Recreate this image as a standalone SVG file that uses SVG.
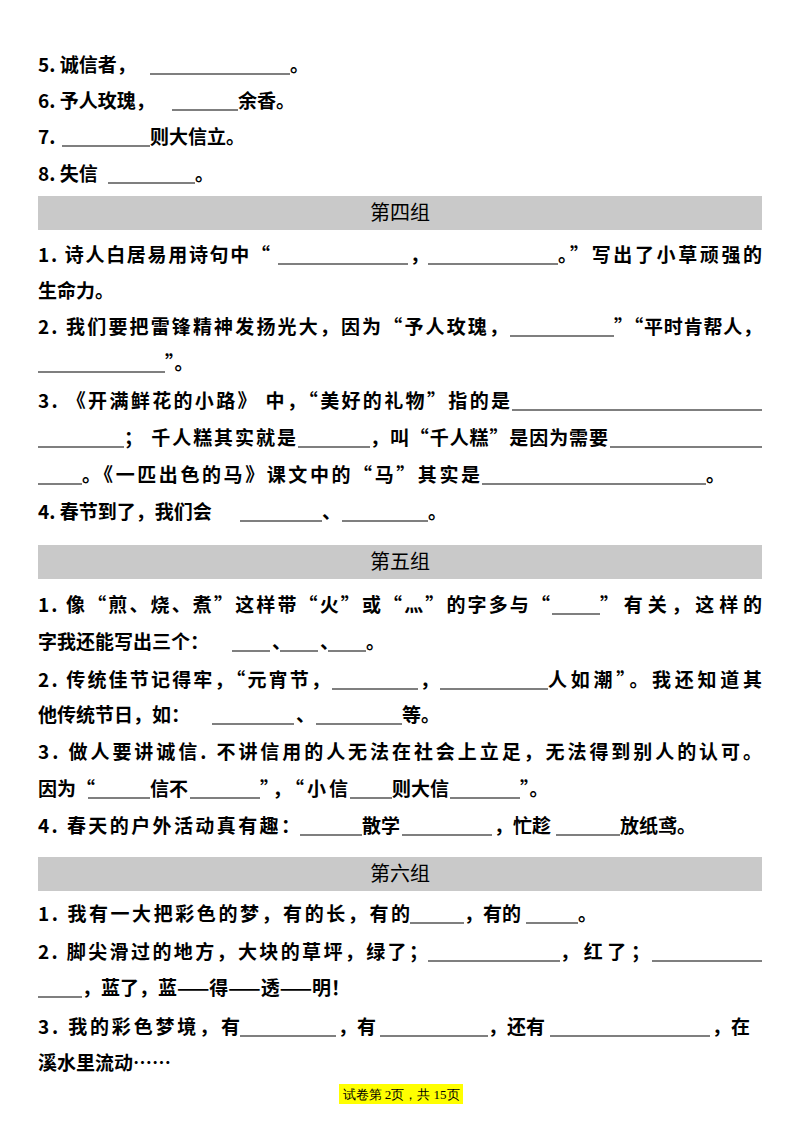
<svg xmlns="http://www.w3.org/2000/svg" width="800" height="1132" viewBox="0 0 800 1132">
<style>
text{font-family:"Noto Sans CJK SC","Noto Sans",sans-serif;font-size:19px;font-weight:bold;fill:#000}
.h{font-size:20px;text-anchor:middle;font-weight:normal}
.bar{fill:#c9c9c9}
line{stroke:#000;stroke-width:1.2}
.f{font-family:"Liberation Serif",serif;font-size:13px;font-weight:normal;text-anchor:middle}
</style>
<rect width="800" height="1132" fill="#fff"/>
<text x="38" y="72">5. 诚信者，</text><line x1="150" y1="74" x2="290" y2="74"/><text x="290" y="72">。</text>
<text x="38" y="108">6. 予人玫瑰，</text><line x1="172" y1="110" x2="238" y2="110"/><text x="238" y="108">余香。</text>
<text x="38" y="144">7. </text><line x1="62" y1="146" x2="150" y2="146"/><text x="150" y="144">则大信立。</text>
<text x="38" y="181">8. 失信</text><line x1="108" y1="183" x2="195" y2="183"/><text x="195" y="181">。</text>

<rect class="bar" x="38" y="196" width="724" height="34"/><text class="h" x="400" y="220">第四组</text>
<text x="38" y="262" textLength="232">1. 诗人白居易用诗句中“</text><line x1="278" y1="264" x2="408" y2="264"/><text x="410" y="262">，</text><line x1="428" y1="264" x2="558" y2="264"/><text x="558" y="262" textLength="204">。”写出了小草顽强的</text>
<text x="38" y="298">生命力。</text>
<text x="38" y="334" textLength="470">2. 我们要把雷锋精神发扬光大，因为“予人玫瑰，</text><line x1="510" y1="336" x2="614" y2="336"/><text x="614" y="334" textLength="148">”“平时肯帮人，</text>
<line x1="38" y1="372" x2="165" y2="372"/><text x="165" y="370">”。</text>
<text x="38" y="408" textLength="472">3. 《开满鲜花的小路》 中，“美好的礼物”指的是</text><line x1="512" y1="410" x2="762" y2="410"/>
<line x1="38" y1="447" x2="124" y2="447"/><text x="124" y="445" textLength="172">； 千人糕其实就是</text><line x1="298" y1="447" x2="370" y2="447"/><text x="370" y="445" textLength="238">，叫“千人糕”是因为需要</text><line x1="610" y1="447" x2="762" y2="447"/>
<line x1="38" y1="484" x2="82" y2="484"/><text x="82" y="482" textLength="398">。《一匹出色的马》课文中的“马”其实是</text><line x1="482" y1="484" x2="706" y2="484"/><text x="706" y="482">。</text>
<text x="38" y="519">4. 春节到了，我们会</text><line x1="240" y1="521" x2="322" y2="521"/><text x="322" y="519">、</text><line x1="342" y1="521" x2="428" y2="521"/><text x="428" y="519">。</text>

<rect class="bar" x="38" y="545" width="724" height="34"/><text class="h" x="400" y="569">第五组</text>
<text x="38" y="612" textLength="512">1. 像“煎、烧、煮”这样带“火”或“灬”的字多与“</text><line x1="552" y1="614" x2="600" y2="614"/><text x="600" y="612" textLength="162">”有关，这样的</text>
<text x="38" y="649">字我还能写出三个：</text><line x1="232" y1="651" x2="270" y2="651"/><text x="272" y="649">、</text><line x1="280" y1="651" x2="318" y2="651"/><text x="320" y="649">、</text><line x1="328" y1="651" x2="366" y2="651"/><text x="366" y="649">。</text>
<text x="38" y="687" textLength="292">2. 传统佳节记得牢，“元宵节，</text><line x1="332" y1="689" x2="418" y2="689"/><text x="420" y="687">，</text><line x1="440" y1="689" x2="548" y2="689"/><text x="548" y="687" textLength="214">人如潮”。我还知道其</text>
<text x="38" y="722">他传统节日，如：</text><line x1="212" y1="724" x2="294" y2="724"/><text x="296" y="722">、</text><line x1="316" y1="724" x2="402" y2="724"/><text x="402" y="722">等。</text>
<text x="38" y="759" textLength="724">3. 做人要讲诚信. 不讲信用的人无法在社会上立足，无法得到别人的认可。</text>
<text x="38" y="796">因为“</text><line x1="88" y1="798" x2="150" y2="798"/><text x="150" y="796">信不</text><line x1="190" y1="798" x2="260" y2="798"/><text x="260" y="796" textLength="88">”，“小信</text><line x1="350" y1="798" x2="392" y2="798"/><text x="392" y="796">则大信</text><line x1="450" y1="798" x2="520" y2="798"/><text x="520" y="796">”。</text>
<text x="38" y="833" textLength="262">4. 春天的户外活动真有趣：</text><line x1="300" y1="835" x2="362" y2="835"/><text x="362" y="833">散学</text><line x1="402" y1="835" x2="492" y2="835"/><text x="494" y="833">，忙趁</text><line x1="556" y1="835" x2="620" y2="835"/><text x="620" y="833">放纸鸢。</text>

<rect class="bar" x="38" y="857" width="724" height="34"/><text class="h" x="400" y="881">第六组</text>
<text x="38" y="921" textLength="372">1. 我有一大把彩色的梦，有的长，有的</text><line x1="410" y1="923" x2="464" y2="923"/><text x="464" y="921">，有的</text><line x1="526" y1="923" x2="578" y2="923"/><text x="578" y="921">。</text>
<text x="38" y="959" textLength="390">2. 脚尖滑过的地方，大块的草坪，绿了；</text><line x1="428" y1="961" x2="560" y2="961"/><text x="560" y="959" textLength="90">，红了；</text><line x1="652" y1="961" x2="762" y2="961"/>
<line x1="38" y1="997" x2="82" y2="997"/><text x="82" y="995">，蓝了，蓝——得——透——明！</text>
<text x="38" y="1034" textLength="202">3. 我的彩色梦境，有</text><line x1="240" y1="1036" x2="336" y2="1036"/><text x="338" y="1034">，有</text><line x1="380" y1="1036" x2="488" y2="1036"/><text x="488" y="1034">，还有</text><line x1="550" y1="1036" x2="710" y2="1036"/><text x="712" y="1034">，在</text>
<text x="38" y="1070">溪水里流动……</text>

<rect x="339" y="1084" width="124" height="20" fill="#ffff00"/><text class="f" x="401" y="1099">试卷第 2页，共 15页</text>
</svg>
